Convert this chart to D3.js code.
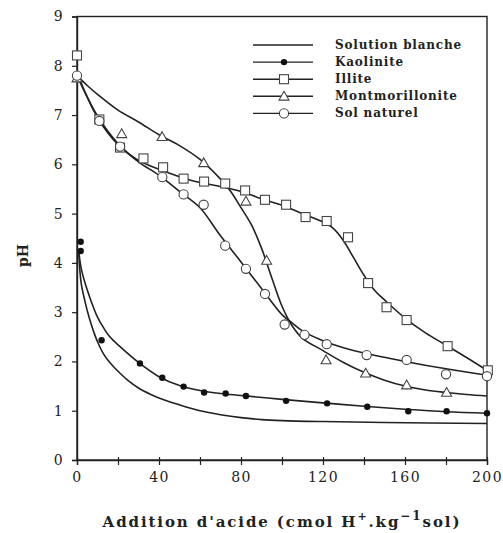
<!DOCTYPE html>
<html lang="en">

<head>
    <meta charset="UTF-8">
    <title>pH - addition d'acide</title>
</head>

<body>
    <div id="target"></div>

    <style>
        html, body {
            margin: 0;
            padding: 0;
            background: #fff;
        }

        text {
            font-family: "DejaVu Serif", "Liberation Serif", serif;
            fill: #222;
        }
    </style>

    <script src="https://d3js.org/d3.v7.min.js"></script>
    <script>
        // measured points [x, pH]
        const kaolinite = [[1.8, 4.43], [1.8, 4.24], [12, 2.43], [30.7, 1.96], [41.6, 1.67], [52, 1.49], [62, 1.37],
            [72.5, 1.35], [82.4, 1.30], [102, 1.20], [122, 1.15], [141.6, 1.08], [161.6, 0.99], [180.3, 0.99], [200, 0.95]];
        const illite = [[0, 8.21], [10.9, 6.91], [21, 6.34], [32.4, 6.12], [42, 5.94], [52, 5.71], [62, 5.65], [72.3, 5.61],
            [82, 5.47], [91.7, 5.28], [102, 5.18], [111.5, 4.93], [121.8, 4.85], [132.2, 4.52], [142, 3.59], [151, 3.10],
            [160.8, 2.84], [180.8, 2.31], [200.4, 1.82]];
        const montmorillonite = [[0, 7.75], [21.8, 6.62], [41.5, 6.56], [61.8, 6.03], [82.4, 5.25], [92.5, 4.05],
            [121.5, 2.03], [140.8, 1.76], [160.8, 1.52], [180.3, 1.37]];
        const solNaturel = [[0, 7.8], [10.9, 6.88], [21, 6.36], [41.6, 5.74], [52, 5.39], [61.8, 5.18], [72.3, 4.35],
            [82.4, 3.88], [91.7, 3.37], [101.3, 2.75], [111, 2.54], [121.8, 2.35], [141.3, 2.13], [160.8, 2.03],
            [180, 1.74], [200, 1.70]];

        // fitted curves
        const blancheFit = [[0.8, 4.25], [2, 3.6], [4, 3.2], [6, 2.88], [8, 2.62], [10, 2.4], [13, 2.15], [16, 1.98],
            [21, 1.76], [25, 1.61], [30, 1.46], [36, 1.33], [40, 1.26], [50, 1.12], [60, 1.0], [70, 0.92], [80, 0.86],
            [90, 0.82], [100, 0.8], [120, 0.78], [150, 0.76], [200, 0.74]];
        const kaoliniteFit = [[0.8, 4.25], [2, 3.9], [4, 3.58], [6, 3.33], [8, 3.1], [10, 2.9], [13, 2.68], [16, 2.5],
            [21, 2.3], [30, 1.98], [40, 1.69], [50, 1.51], [60, 1.41], [70, 1.35], [80, 1.31], [100, 1.23],
            [120, 1.16], [140, 1.09], [160, 1.03], [180, 0.98], [200, 0.95]];
        const illiteFit = [[0, 7.85], [10, 6.95], [20, 6.4], [30, 6.08], [40, 5.9], [50, 5.75], [60, 5.63], [70, 5.55],
            [80, 5.45], [90, 5.3], [100, 5.17], [110, 5.0], [120, 4.83], [125, 4.7], [130, 4.45], [135, 4.1],
            [140, 3.75], [145, 3.45], [150, 3.25], [160, 2.88], [170, 2.58], [180, 2.33], [190, 2.08], [200, 1.82]];
        const montFit = [[0, 7.8], [5, 7.6], [10, 7.42], [20, 7.1], [30, 6.86], [40, 6.6], [50, 6.38], [60, 6.1],
            [70, 5.7], [75, 5.45], [80, 5.12], [85, 4.78], [90, 4.3], [95, 3.7], [100, 3.12], [105, 2.72],
            [110, 2.47], [120, 2.22], [130, 1.98], [140, 1.78], [150, 1.62], [160, 1.5], [170, 1.42], [180, 1.37],
            [190, 1.33], [200, 1.3]];
        const solFit = [[0, 7.8], [10, 6.98], [20, 6.42], [30, 6.05], [40, 5.78], [50, 5.45], [60, 5.12], [70, 4.55],
            [80, 4.02], [90, 3.48], [100, 2.95], [105, 2.78], [110, 2.62], [120, 2.42], [130, 2.28], [140, 2.17],
            [160, 2.0], [180, 1.85], [200, 1.72]];

        const legendLabels = ["Solution blanche", "Kaolinite", "Illite", "Montmorillonite", "Sol naturel"];
        const legendSymbols = ["none", "dot", "square", "triangle", "circle"];
        const xTicks = [0, 20, 40, 60, 80, 100, 120, 140, 160, 180, 200];
        const yTicks = [0, 1, 2, 3, 4, 5, 6, 7, 8, 9];

        const width = 503;
        const height = 533;
        const margin = { top: 16.5, right: 16, bottom: 73, left: 77 };
        const ink = "#222";

        const svg = d3.select("#target")
            .append("svg")
            .attr("width", width)
            .attr("height", height);

        const x = d3.scaleLinear().domain([0, 200]).range([margin.left, width - margin.right]);
        const y = d3.scaleLinear().domain([0, 9]).range([height - margin.bottom, margin.top]);

        // frame
        svg.append("rect")
            .attr("x", x(0)).attr("y", y(9))
            .attr("width", x(200) - x(0)).attr("height", y(0) - y(9))
            .attr("fill", "none").attr("stroke", ink).attr("stroke-width", 1.4);

        // x axis (ticks cross the axis line)
        svg.append("g")
            .attr("transform", `translate(0,${y(0)})`)
            .call(d3.axisBottom(x).tickValues(xTicks).tickSize(5).tickPadding(7)
                .tickFormat(d => d % 40 === 0 ? d : ""));
        svg.append("g")
            .attr("transform", `translate(0,${y(0)})`)
            .call(d3.axisBottom(x).tickValues(xTicks).tickSize(-3).tickFormat(""))
            .select(".domain").remove();

        svg.append("g")
            .attr("transform", `translate(${x(0)},0)`)
            .call(d3.axisLeft(y).tickValues(yTicks).tickSize(5).tickPadding(8));

        svg.selectAll(".domain").attr("stroke", ink).attr("stroke-width", 1.4);
        svg.selectAll(".tick line").attr("stroke", ink).attr("stroke-width", 1.2);
        svg.selectAll(".tick text")
            .style("font-family", '"DejaVu Serif", serif')
            .style("font-size", "14px")
            .style("letter-spacing", "1.4px")
            .attr("fill", ink);

        // axis titles
        const xt = svg.append("text")
            .attr("x", x(100)).attr("y", 527)
            .attr("text-anchor", "middle")
            .style("font-size", "15px").style("font-weight", "bold").style("letter-spacing", "1.9px");
        xt.append("tspan").text("Addition d'acide (cmol H");
        xt.append("tspan").attr("dy", -7).style("font-size", "11px").text("+");
        xt.append("tspan").attr("dy", 7).text(".kg");
        xt.append("tspan").attr("dy", -7).style("font-size", "12px").text("\u22121");
        xt.append("tspan").attr("dy", 7).text("sol)");

        svg.append("text")
            .attr("transform", `translate(28,${y(4.15)}) rotate(-90)`)
            .attr("text-anchor", "middle")
            .style("font-size", "14px").style("font-weight", "bold")
            .text("pH");

        // curves
        const line = d3.line()
            .x(d => x(d[0]))
            .y(d => y(d[1]))
            .curve(d3.curveCatmullRom.alpha(0.5));

        const g = svg.append("g");
        [blancheFit, kaoliniteFit, illiteFit, montFit, solFit].forEach(s => {
            g.append("path")
                .attr("d", line(s))
                .attr("fill", "none")
                .attr("stroke", ink)
                .attr("stroke-width", 1.6);
        });

        function drawSymbol(sel, kind) {
            if (kind === "dot") {
                sel.append("circle").attr("r", 3.2).attr("fill", "#111");
            } else if (kind === "square") {
                sel.append("rect").attr("x", -4.5).attr("y", -4.5).attr("width", 9).attr("height", 9)
                    .attr("fill", "#fff").attr("stroke", "#444").attr("stroke-width", 1.1);
            } else if (kind === "triangle") {
                sel.append("path").attr("d", "M0,-5L5,3.8L-5,3.8Z")
                    .attr("fill", "#fff").attr("stroke", "#444").attr("stroke-width", 1.1);
            } else if (kind === "circle") {
                sel.append("circle").attr("r", 4.6)
                    .attr("fill", "#fff").attr("stroke", "#444").attr("stroke-width", 1.1);
            }
        }

        const series = [[kaolinite, "dot"], [illite, "square"], [montmorillonite, "triangle"], [solNaturel, "circle"]];
        series.forEach(([data, kind]) => {
            g.selectAll(null)
                .data(data)
                .join("g")
                .attr("transform", d => `translate(${x(d[0])},${y(d[1])})`)
                .each(function () { drawSymbol(d3.select(this), kind); });
        });

        // legend
        const legend = svg.append("g");
        legendLabels.forEach((label, i) => {
            const ly = 45 + i * 17.1;
            legend.append("line")
                .attr("x1", 253).attr("x2", 313).attr("y1", ly).attr("y2", ly)
                .attr("stroke", ink).attr("stroke-width", 1.4);
            drawSymbol(legend.append("g").attr("transform", `translate(284,${ly})`), legendSymbols[i]);
            legend.append("text")
                .attr("x", 335).attr("y", ly + 4)
                .style("font-size", "12px").style("font-weight", "bold").style("letter-spacing", "0.8px")
                .text(label);
        });
    </script>

</body>

</html>
